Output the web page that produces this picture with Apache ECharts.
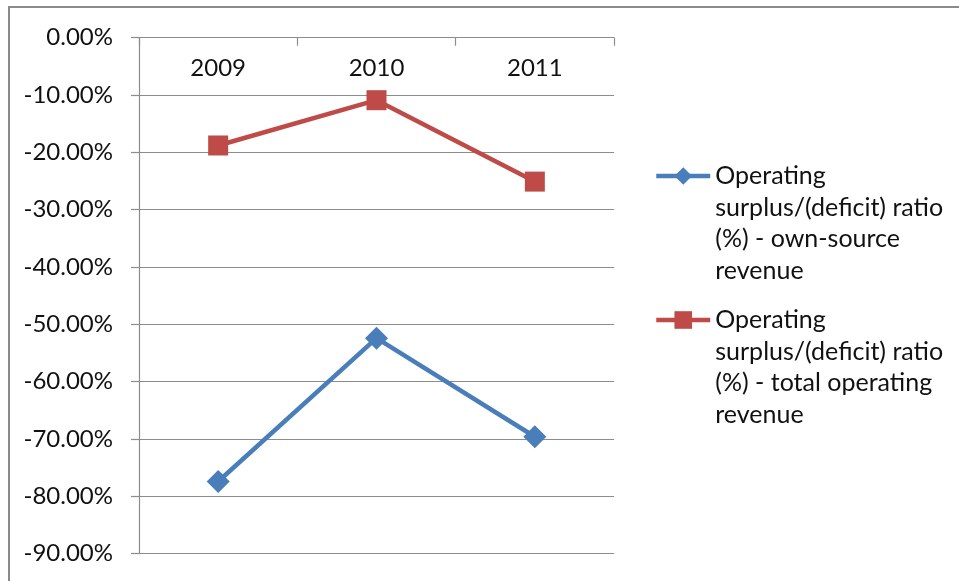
<!DOCTYPE html>
<html>
<head>
<meta charset="utf-8">
<title>Operating surplus/(deficit) ratio</title>
<script src="https://cdn.jsdelivr.net/npm/echarts@6/dist/echarts.min.js"></script>
<style>
  html, body { margin: 0; padding: 0; background: #ffffff; }
  #chart { width: 959px; height: 581px; }
</style>
</head>
<body>
<div id="chart"></div>
<script>
// Fiscal years shown along the top axis
const years = ['2009', '2010', '2011'];

// Ratios in percent
const ownSourceRatio = [-77.4, -52.4, -69.6];
const totalOperatingRatio = [-18.8, -10.9, -25.1];

// Series names and how they wrap in the legend
const ownSourceName = 'Operating surplus/(deficit) ratio (%) - own-source revenue';
const totalOperatingName = 'Operating surplus/(deficit) ratio (%) - total operating revenue';
const ownSourceLines = ['Operating', 'surplus/(deficit) ratio', '(%) - own-source', 'revenue'];
const totalOperatingLines = ['Operating', 'surplus/(deficit) ratio', '(%) - total operating', 'revenue'];

// Value axis range
const yMin = -90;
const yMax = 0;
const yStep = 10;

const FONT = 'Lato';
const BLUE = '#4a7ebb';
const RED = '#be4b48';
const GRID_GRAY = '#8c8c8c';

const LINE_H = 31.5;
const ICON_H = 22;

// Legend text is middle-aligned on its icon; leading blank lines push the
// first real line level with the icon while the rest hangs below it.
function legendFor(name, lines, iconCenterY) {
  const padded = new Array(lines.length - 1).fill('').concat(lines);
  const blockH = padded.length * LINE_H;
  return {
    data: [name],
    orient: 'vertical',
    left: 654,
    top: iconCenterY - blockH / 2,
    padding: 0,
    itemWidth: 54,
    itemHeight: ICON_H,
    itemGap: 0,
    selectedMode: false,
    formatter: () => padded.join('\n'),
    lineStyle: { width: 4.5 },
    textStyle: {
      fontFamily: FONT,
      fontSize: 25,
      color: '#111111',
      lineHeight: LINE_H
    }
  };
}

const chart = echarts.init(document.getElementById('chart'), null, { renderer: 'canvas' });

chart.setOption({
  backgroundColor: '#ffffff',
  animation: false,
  graphic: [{
    type: 'polyline',
    shape: { points: [[9, 581], [9, 7], [959, 7]] },
    style: { stroke: '#8a8a8a', lineWidth: 2, fill: null },
    silent: true
  }],
  legend: [
    legendFor(ownSourceName, ownSourceLines, 176),
    legendFor(totalOperatingName, totalOperatingLines, 320)
  ],
  grid: {
    left: 139,
    right: 345,
    top: 37.7,
    bottom: 27.3,
    containLabel: false
  },
  xAxis: {
    type: 'category',
    data: years,
    position: 'top',
    boundaryGap: true,
    axisLine: { show: true, onZero: false, lineStyle: { color: GRID_GRAY, width: 1.2 } },
    axisTick: { show: true, inside: true, length: 8, lineStyle: { color: GRID_GRAY, width: 1.2 } },
    axisLabel: {
      inside: true,
      margin: 19,
      fontFamily: FONT,
      fontSize: 24,
      color: '#111111'
    },
    splitLine: { show: false }
  },
  yAxis: {
    type: 'value',
    min: yMin,
    max: yMax,
    interval: yStep,
    axisLine: { show: true, lineStyle: { color: GRID_GRAY, width: 1.2 } },
    axisTick: { show: true, length: 8, lineStyle: { color: GRID_GRAY, width: 1.2 } },
    axisLabel: {
      margin: 26,
      fontFamily: FONT,
      fontSize: 24,
      color: '#111111',
      formatter: (v) => v.toFixed(2) + '%'
    },
    splitLine: { show: true, lineStyle: { color: GRID_GRAY, width: 1.2 } }
  },
  series: [
    {
      name: ownSourceName,
      type: 'line',
      data: ownSourceRatio,
      symbol: 'diamond',
      symbolSize: 23,
      color: BLUE,
      lineStyle: { color: BLUE, width: 4.5 },
      itemStyle: { color: BLUE },
      z: 3
    },
    {
      name: totalOperatingName,
      type: 'line',
      data: totalOperatingRatio,
      symbol: 'rect',
      symbolSize: 20,
      color: RED,
      lineStyle: { color: RED, width: 4.5 },
      itemStyle: { color: RED },
      z: 3
    }
  ]
});
</script>
</body>
</html>
